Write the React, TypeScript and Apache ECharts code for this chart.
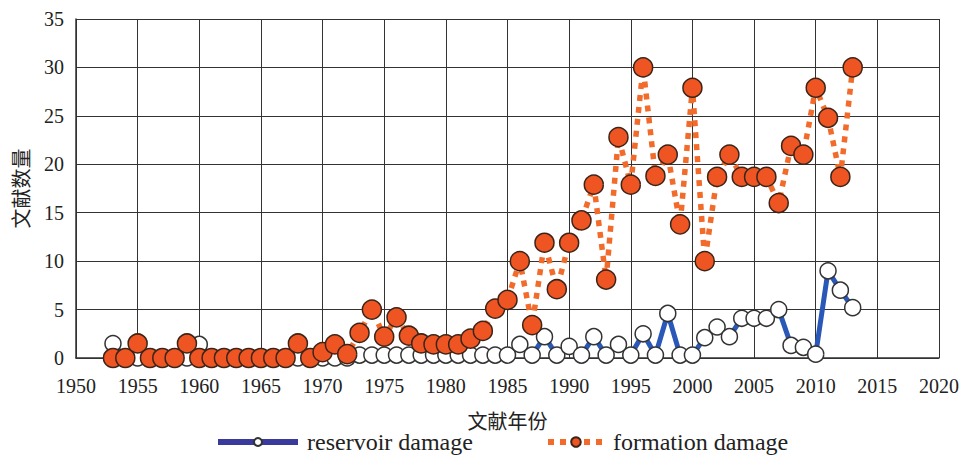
import React, { useEffect, useRef } from "react";
import * as echarts from "echarts";

const years: number[] = [
  1953, 1954, 1955, 1956, 1957, 1958, 1959, 1960, 1961, 1962,
  1963, 1964, 1965, 1966, 1967, 1968, 1969, 1970, 1971, 1972,
  1973, 1974, 1975, 1976, 1977, 1978, 1979, 1980, 1981, 1982,
  1983, 1984, 1985, 1986, 1987, 1988, 1989, 1990, 1991, 1992,
  1993, 1994, 1995, 1996, 1997, 1998, 1999, 2000, 2001, 2002,
  2003, 2004, 2005, 2006, 2007, 2008, 2009, 2010, 2011, 2012, 2013,
];

const reservoirDamage: number[] = [
  1.5, 0, 0, 0, 0, 0, 0, 1.4, 0, 0,
  0, 0, 0, 0, 0, 0, 0, 0, 0, 0,
  0.3, 0.3, 0.3, 0.3, 0.3, 0.3, 0.3, 0.3, 0.3, 0.3,
  0.3, 0.3, 0.3, 1.4, 0.3, 2.2, 0.3, 1.2, 0.3, 2.2,
  0.3, 1.4, 0.3, 2.5, 0.3, 4.6, 0.3, 0.3, 2.1, 3.2,
  2.2, 4.1, 4.1, 4.1, 5.0, 1.3, 1.1, 0.4, 9.0, 7.0, 5.2,
];

const formationDamage: number[] = [
  0, 0, 1.5, 0, 0, 0, 1.5, 0, 0, 0,
  0, 0, 0, 0, 0, 1.5, 0, 0.6, 1.4, 0.4,
  2.6, 5.0, 2.2, 4.2, 2.3, 1.5, 1.4, 1.4, 1.4, 2.0,
  2.8, 5.1, 6.0, 10.0, 3.4, 11.9, 7.1, 11.9, 14.2, 17.9,
  8.1, 22.8, 17.9, 30.0, 18.8, 21.0, 13.8, 27.9, 10.0, 18.7,
  21.0, 18.7, 18.7, 18.7, 16.0, 21.9, 21.0, 27.9, 24.8, 18.7, 30.0,
];

const seriesNames = ["reservoir damage", "formation damage"];
const xAxisName = "文献年份";
const yAxisName = "文献数量";

const serif = "'Liberation Serif', 'Times New Roman', serif";
const cjk = "'Noto Sans CJK SC', sans-serif";

export default function App() {
  const ref = useRef<HTMLDivElement>(null);

  useEffect(() => {
    document.body.style.margin = "0";
    if (!ref.current) return;
    const chart = echarts.init(ref.current, undefined, { renderer: "svg" });
    const resPairs = years.map((y, i) => [y, reservoirDamage[i]]);
    const formPairs = years.map((y, i) => [y, formationDamage[i]]);

    const legendText = { fontFamily: serif, fontSize: 24, color: "#222", padding: [0, 0, 0, 4] };

    chart.setOption({
      animation: false,
      backgroundColor: "#ffffff",
      grid: { left: 76, top: 19, width: 864, height: 339, containLabel: false },
      xAxis: {
        type: "value",
        min: 1950,
        max: 2020,
        interval: 5,
        name: xAxisName,
        nameLocation: "middle",
        nameGap: 52,
        nameTextStyle: { fontFamily: cjk, fontSize: 20, color: "#222" },
        axisLine: { show: true, onZero: false, lineStyle: { color: "#333", width: 1.5 } },
        axisTick: { show: false },
        axisLabel: {
          fontFamily: serif,
          fontSize: 20,
          color: "#222",
          margin: 18,
          formatter: (v: number) => String(v),
        },
        splitLine: { show: true, lineStyle: { color: "#333", width: 1 } },
      },
      yAxis: {
        type: "value",
        min: 0,
        max: 35,
        interval: 5,
        name: yAxisName,
        nameLocation: "middle",
        nameRotate: 90,
        nameGap: 46,
        nameTextStyle: { fontFamily: cjk, fontSize: 20, color: "#222" },
        axisLine: { show: true, lineStyle: { color: "#333", width: 1.5 } },
        axisTick: { show: false },
        axisLabel: { fontFamily: serif, fontSize: 20, color: "#222", margin: 12 },
        splitLine: { show: true, lineStyle: { color: "#333", width: 1 } },
      },
      legend: [
        {
          left: 210,
          top: 425,
          itemWidth: 80,
          itemHeight: 10,
          textStyle: legendText,
          data: [{ name: seriesNames[0], lineStyle: { color: "#3a3a9c", width: 6 } }],
        },
        {
          left: 540,
          top: 425,
          itemWidth: 56,
          itemHeight: 12,
          textStyle: legendText,
          data: [{ name: seriesNames[1], lineStyle: { width: 6 } }],
        },
      ],
      series: [
        {
          name: seriesNames[0],
          type: "line",
          data: resPairs,
          symbol: "circle",
          symbolSize: 16,
          itemStyle: { color: "#ffffff", borderColor: "#333333", borderWidth: 1.5 },
          lineStyle: { color: "#2a58b8", width: 5 },
          z: 2,
        },
        {
          name: seriesNames[1],
          type: "line",
          data: formPairs,
          symbol: "circle",
          symbolSize: 19,
          itemStyle: { color: "#ee5523", borderColor: "#3d2418", borderWidth: 1.5 },
          lineStyle: { color: "#f26b2a", width: 5.5, type: [6, 6] },
          z: 3,
        },
      ],
    });
    return () => chart.dispose();
  }, []);

  return <div ref={ref} style={{ width: 962, height: 456 }} />;
}
